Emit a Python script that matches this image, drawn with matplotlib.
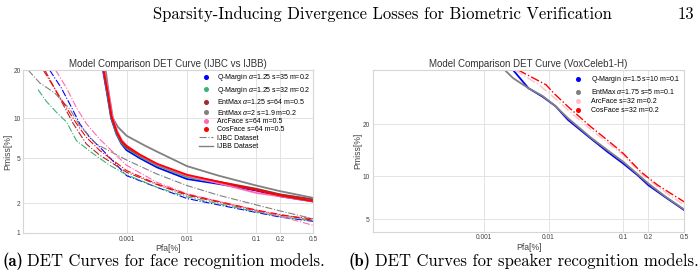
import numpy as np
import matplotlib
matplotlib.use("Agg")
import matplotlib.pyplot as plt
from matplotlib.lines import Line2D
from statistics import NormalDist

# ---------------- data (Pfa[%], Pmiss[%]) ----------------
# Face recognition, IJBB (solid)
qm35_ijbb_pfa = [3.75e-4, 4.5e-4, 5.3e-4, 6.6e-4, 8.1e-4, 1e-3, 1.7e-3, 3.3e-3, 0.01, 0.03, 0.1, 0.2, 0.5]
qm35_ijbb_pmiss = [20, 14.3, 10, 7.7, 6.5, 5.8, 5.0, 4.2, 3.33, 3.01, 2.62, 2.32, 2.07]
qm32_ijbb_pfa = [3.8e-4, 4.55e-4, 5.35e-4, 6.6e-4, 8.1e-4, 1e-3, 1.7e-3, 3.3e-3, 0.01, 0.03, 0.1, 0.2, 0.5]
qm32_ijbb_pmiss = [20, 14.5, 10.1, 7.8, 6.6, 6.0, 5.15, 4.35, 3.45, 3.08, 2.68, 2.4, 2.13]
em125_ijbb_pfa = [3.85e-4, 4.6e-4, 5.4e-4, 6.7e-4, 8.2e-4, 1e-3, 1.7e-3, 3.3e-3, 0.01, 0.03, 0.1, 0.2, 0.5]
em125_ijbb_pmiss = [20, 14.8, 10.2, 7.9, 6.7, 6.1, 5.25, 4.45, 3.55, 3.15, 2.72, 2.42, 2.17]
em2_ijbb_pfa = [4.2e-4, 4.85e-4, 5.7e-4, 7.05e-4, 1e-3, 2.07e-3, 3.3e-3, 0.01, 0.03, 0.1, 0.2, 0.5]
em2_ijbb_pmiss = [20, 14.3, 10, 8.66, 7.49, 6.3, 5.65, 4.3, 3.56, 2.91, 2.59, 2.24]
arc_ijbb_pfa = [3.95e-4, 4.7e-4, 5.5e-4, 6.8e-4, 8.3e-4, 1e-3, 1.7e-3, 3.3e-3, 0.01, 0.03, 0.1, 0.2, 0.5]
arc_ijbb_pmiss = [20, 15, 10.5, 8.1, 6.9, 6.3, 5.3, 4.45, 3.56, 3.05, 2.49, 2.32, 2.07]
cos_ijbb_pfa = [3.85e-4, 4.6e-4, 5.4e-4, 6.7e-4, 8.2e-4, 1e-3, 1.7e-3, 3.3e-3, 0.01, 0.03, 0.1, 0.2, 0.5]
cos_ijbb_pmiss = [20, 14.8, 10.3, 8.0, 6.8, 6.25, 5.35, 4.5, 3.63, 3.15, 2.64, 2.36, 2.08]

# Face recognition, IJBC (dash-dot)
qm35_ijbc_pfa = [3.5e-5, 6.0e-5, 9.6e-5, 1.37e-4, 2.12e-4, 3.75e-4, 1e-3, 3.3e-3, 0.01, 0.03, 0.1, 0.2, 0.5]
qm35_ijbc_pmiss = [20, 15.75, 11.8, 9.17, 7.28, 5.78, 3.56, 2.81, 2.21, 1.92, 1.62, 1.46, 1.32]
qm32_ijbc_pfa = [2.03e-5, 3.0e-5, 4.8e-5, 7.6e-5, 1.19e-4, 2.45e-4, 4.97e-4, 1e-3, 3.3e-3, 0.01, 0.03, 0.1, 0.2, 0.5]
qm32_ijbc_pmiss = [15.4, 13.0, 11.0, 9.44, 6.87, 5.45, 4.37, 3.63, 2.81, 2.29, 1.97, 1.64, 1.48, 1.33]
em125_ijbc_pfa = [2.8e-5, 5.6e-5, 1.03e-4, 1.84e-4, 3.26e-4, 1e-3, 3.3e-3, 0.01, 0.03, 0.1, 0.2, 0.5]
em125_ijbc_pmiss = [20, 13.6, 9.17, 6.48, 5.30, 3.81, 2.97, 2.37, 2.04, 1.68, 1.52, 1.40]
em2_ijbc_pfa = [1.26e-5, 2.2e-5, 4.4e-5, 8.9e-5, 1.37e-4, 2.83e-4, 1e-3, 3.3e-3, 0.01, 0.03, 0.1, 0.2, 0.5]
em2_ijbc_pmiss = [20, 16.9, 14.7, 11.5, 8.91, 6.48, 4.83, 3.68, 2.91, 2.37, 1.92, 1.68, 1.40]
arc_ijbc_pfa = [4.6e-5, 7.6e-5, 1.19e-4, 1.84e-4, 3.26e-4, 1e-3, 3.3e-3, 0.01, 0.03, 0.1, 0.2, 0.5]
arc_ijbc_pmiss = [20, 15.75, 11.8, 9.17, 7.07, 4.37, 3.11, 2.45, 2.07, 1.71, 1.49, 1.20]
cos_ijbc_pfa = [2.6e-5, 4.8e-5, 7.6e-5, 1.19e-4, 1.84e-4, 3.26e-4, 1e-3, 3.3e-3, 0.01, 0.03, 0.1, 0.2, 0.5]
cos_ijbc_pmiss = [20, 15.0, 11.8, 9.17, 7.28, 5.78, 3.94, 3.01, 2.42, 2.07, 1.71, 1.55, 1.35]

face_labels = [r"Q-Margin $\alpha$=1.25 s=35 m=0.2", r"Q-Margin $\alpha$=1.25 s=32 m=0.2",
               r"EntMax $\alpha$=1.25 s=64 m=0.5", r"EntMax $\alpha$=2 s=1.9 m=0.2",
               "ArcFace s=64 m=0.5", "CosFace s=64 m=0.5"]
face_colors = ["blue", "mediumseagreen", "brown", "gray", "hotpink", "red"]

# Speaker recognition, VoxCeleb1-H
vqm_pfa = [0.00294, 0.00505, 0.00815, 0.0126, 0.0189, 0.0383, 0.0635, 0.1, 0.149, 0.2, 0.308, 0.5]
vqm_pmiss = [35, 29.5, 27.1, 24.5, 21.0, 16.8, 14.1, 12.0, 10.15, 8.72, 7.26, 5.83]
vem_pfa = [0.00218, 0.00294, 0.00505, 0.00815, 0.0126, 0.0189, 0.0383, 0.0635, 0.1, 0.149, 0.2, 0.308, 0.5]
vem_pmiss = [35, 32.5, 29.5, 27.3, 24.5, 21.4, 17.0, 14.4, 12.3, 10.3, 8.95, 7.34, 5.89]
varc_pfa = [0.00312, 0.00723, 0.0103, 0.0189, 0.0383, 0.0635, 0.1, 0.163, 0.256, 0.5]
varc_pmiss = [35, 30.5, 28.0, 23.5, 18.75, 15.9, 13.5, 10.4, 8.5, 6.33]
vcos_pfa = [0.00352, 0.0092, 0.012, 0.0189, 0.0383, 0.0635, 0.1, 0.163, 0.256, 0.5]
vcos_pmiss = [35, 30.5, 28.0, 24.35, 19.4, 16.4, 13.8, 10.65, 8.72, 6.69]

voice_labels = [r"Q-Margin $\alpha$=1.5 s=10 m=0.1", r"EntMax $\alpha$=1.75 s=5 m=0.1",
                "ArcFace s=32 m=0.2", "CosFace s=32 m=0.2"]
voice_colors = ["blue", "gray", "pink", "red"]

pfa_ticks = [0.001, 0.01, 0.1, 0.2, 0.5]
pfa_ticklabels = ["0.001", "0.01", "0.1", "0.2", "0.5"]
face_pmiss_ticks = [1, 2, 5, 10, 20]
voice_pmiss_ticks = [5, 10, 20]

# ---------------- normal-deviate (DET) scale ----------------
_nd = NormalDist()

def _ppf1(q):
    if not np.isfinite(q):
        return np.nan
    q = min(max(q, 1e-15), 1 - 1e-15)
    return _nd.inv_cdf(q)

def _cdf1(u):
    if not np.isfinite(u):
        return np.nan
    return _nd.cdf(u)

_ppf_v = np.vectorize(_ppf1, otypes=[float])
_cdf_v = np.vectorize(_cdf1, otypes=[float])

def fwd(p):
    p = np.asarray(p, dtype=float)
    if p.size == 0:
        return p
    return _ppf_v(p / 100.0)

def inv(u):
    u = np.asarray(u, dtype=float)
    if u.size == 0:
        return u
    return 100.0 * _cdf_v(u)

# ---------------- figure ----------------
plt.rcParams['font.family'] = ['Liberation Sans', 'DejaVu Sans']
plt.rcParams['mathtext.fontset'] = 'custom'
plt.rcParams['mathtext.it'] = 'Liberation Sans:italic'
plt.rcParams['mathtext.rm'] = 'Liberation Sans'

fig = plt.figure(figsize=(7.0, 2.79), dpi=100)
fig.patch.set_facecolor("white")

ax1 = fig.add_axes([0.0333, 0.1649, 0.4143, 0.584])
ax2 = fig.add_axes([0.5324, 0.1695, 0.4452, 0.5796])

def style(ax, yticks, ylim, title):
    ax.set_xscale('function', functions=(fwd, inv))
    ax.set_yscale('function', functions=(fwd, inv))
    ax.set_xlim(1e-5, 0.5)
    ax.set_ylim(*ylim)
    ax.set_xticks(pfa_ticks)
    ax.set_xticklabels(pfa_ticklabels)
    ax.set_yticks(yticks)
    ax.set_yticklabels([str(t) for t in yticks])
    ax.minorticks_off()
    ax.tick_params(axis='both', length=0, labelsize=4.8, colors='#444444', pad=2)
    ax.grid(True, color='#e3e3e3', linewidth=0.7)
    ax.set_axisbelow(True)
    for s in ax.spines.values():
        s.set_color('#d6d6d6')
        s.set_linewidth(0.8)
    ax.set_xlabel("Pfa[%]", fontsize=6.2, color='#444444', labelpad=1)
    ax.set_ylabel("Pmiss[%]", fontsize=6.2, color='#444444', labelpad=0.5)
    ax.set_title(title, fontsize=7.0, color='#333333', pad=2)

face_ijbc = [(qm35_ijbc_pfa, qm35_ijbc_pmiss), (qm32_ijbc_pfa, qm32_ijbc_pmiss),
             (em125_ijbc_pfa, em125_ijbc_pmiss), (em2_ijbc_pfa, em2_ijbc_pmiss),
             (arc_ijbc_pfa, arc_ijbc_pmiss), (cos_ijbc_pfa, cos_ijbc_pmiss)]
face_ijbb = [(qm35_ijbb_pfa, qm35_ijbb_pmiss), (qm32_ijbb_pfa, qm32_ijbb_pmiss),
             (em125_ijbb_pfa, em125_ijbb_pmiss), (em2_ijbb_pfa, em2_ijbb_pmiss),
             (arc_ijbb_pfa, arc_ijbb_pmiss), (cos_ijbb_pfa, cos_ijbb_pmiss)]

for (cx, cy), (bx, by), col in zip(face_ijbc, face_ijbb, face_colors):
    ax1.plot(cx, cy, color=col, ls='-.', lw=0.8)
    ax1.plot(bx, by, color=col, ls='-', lw=1.3)
style(ax1, face_pmiss_ticks, (1, 20), "Model Comparison DET Curve (IJBC vs IJBB)")

h1 = [Line2D([], [], color=c, marker='o', ls='none', markersize=2.6) for c in face_colors]
h1 += [Line2D([], [], color='gray', ls='-.', lw=0.8), Line2D([], [], color='gray', ls='-', lw=1.0)]
l1 = face_labels + ["IJBC Dataset", "IJBB Dataset"]
ax1.legend(h1, l1, loc='upper right', fontsize=5.0, frameon=False, handlelength=2.0,
           labelspacing=0.2, borderaxespad=0.2, borderpad=0.15, handletextpad=0.7)

voice = [(vqm_pfa, vqm_pmiss, '-', 1.3), (vem_pfa, vem_pmiss, '-', 1.3),
         (varc_pfa, varc_pmiss, '-.', 1.0), (vcos_pfa, vcos_pmiss, '-.', 1.0)]
for (vx, vy, ls, lw), col in zip(voice, voice_colors):
    ax2.plot(vx, vy, color=col, ls=ls, lw=lw)
style(ax2, voice_pmiss_ticks, (4, 35), "Model Comparison DET Curve (VoxCeleb1-H)")
h2 = [Line2D([], [], color=c, marker='o', ls='none', markersize=2.6) for c in voice_colors]
ax2.legend(h2, voice_labels, loc='upper right', fontsize=5.0, frameon=False, handlelength=2.0,
           labelspacing=0.28, borderaxespad=0.3, borderpad=0.3, handletextpad=0.8)

# page header and captions
fig.text(612 / 700, 1 - 14 / 279, "Sparsity-Inducing Divergence Losses for Biometric Verification",
         family='cmr10', fontsize=12, ha='right', va='center')
fig.text(694 / 700, 1 - 14 / 279, "13", family='cmr10', fontsize=12, ha='right', va='center')

def caption(x, tag, rest):
    t = fig.text(x, 1 - 261 / 279, tag, family='cmb10', fontsize=12, ha='left', va='center')
    fig.canvas.draw()
    bb = t.get_window_extent()
    fig.text(bb.x1 / fig.bbox.width + 4 / 700, 1 - 261 / 279, rest, family='cmr10',
             fontsize=12, ha='left', va='center')

caption(2 / 700, "(a)", "DET Curves for face recognition models.")
caption(349 / 700, "(b)", "DET Curves for speaker recognition models.")

fig.savefig("out.png", dpi=100, facecolor="white")
